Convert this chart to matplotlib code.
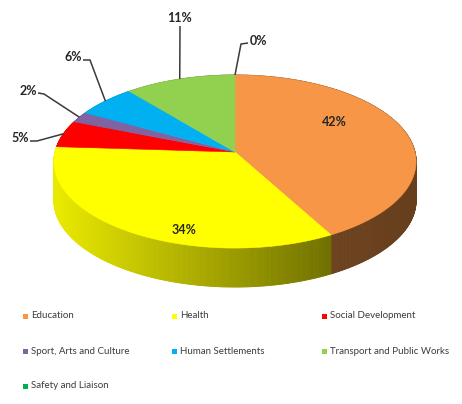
import numpy as np
import matplotlib
matplotlib.use("Agg")
import matplotlib.pyplot as plt
from matplotlib.collections import PolyCollection
from matplotlib.patches import Polygon, Rectangle
from matplotlib.colors import to_rgb

# budget share per department (percent), drawn clockwise from 12 o'clock
departments = ["Education", "Health", "Social Development", "Sport, Arts and Culture",
               "Human Settlements", "Transport and Public Works", "Safety and Liaison"]
shares = [42, 34, 5, 2, 6, 11, 0]
colors = ["#F79646", "#FFFF00", "#FF0000", "#8064A2", "#00B0F0", "#92D050", "#00B050"]

# pie geometry in pixel space
CX, CY = 235, 152
RX, RY = 180, 85.5
PERSP = 0.11
DEPTH = 39

# label placement: (text x, text y, ha, leader elbow) ; None elbow -> label on the top face
label_pos = [
    (334, 122, "center", None),
    (184, 230, "center", None),
    (29, 138, "right", [(30, 141), (37, 141)]),
    (37, 91, "right", [(38, 93), (44, 94)]),
    (82, 57, "right", [(83, 60), (90, 60)]),
    (180, 18, "center", [(180, 26)]),
    (250, 41, "left", [(248, 43), (241, 44)]),
]

legend_cols = [23, 172, 322]
legend_rows = [316, 351, 386]


def project(theta, r=1.0):
    t = np.radians(theta)
    u = r * np.sin(t)
    v = -r * np.cos(t)
    w = 1.0 / (1.0 - PERSP * v)
    return CX + RX * u * w, CY + RY * v * w


def side_shade(x):
    return np.interp(x, [55, 330, 415], [0.92, 0.44, 0.42])


fig = plt.figure(figsize=(4.62, 4.04), dpi=100)
ax = fig.add_axes([0, 0, 1, 1])
ax.set_xlim(0, 462)
ax.set_ylim(404, 0)
ax.axis("off")

bounds = np.concatenate([[0], np.cumsum(shares)]) / np.sum(shares) * 360.0

# rim walls, back to front
quads, qcolors, depth_key = [], [], []
for i, (a0, a1) in enumerate(zip(bounds[:-1], bounds[1:])):
    if a1 - a0 <= 0:
        continue
    n = max(2, int((a1 - a0) / 0.5) + 1)
    th = np.linspace(a0, a1, n)
    xs, ys = project(th)
    base = np.array(to_rgb(colors[i]))
    for k in range(n - 1):
        q = [(xs[k], ys[k]), (xs[k + 1], ys[k + 1]),
             (xs[k + 1], ys[k + 1] + DEPTH), (xs[k], ys[k] + DEPTH)]
        quads.append(q)
        qcolors.append(base * side_shade(0.5 * (xs[k] + xs[k + 1])))
        depth_key.append(-np.cos(np.radians(0.5 * (th[k] + th[k + 1]))))
order = np.argsort(depth_key)
ax.add_collection(PolyCollection([quads[j] for j in order],
                                 facecolors=[qcolors[j] for j in order],
                                 edgecolors=[qcolors[j] for j in order],
                                 linewidths=0.6))

# top face
for i, (a0, a1) in enumerate(zip(bounds[:-1], bounds[1:])):
    if a1 - a0 <= 0:
        continue
    th = np.linspace(a0, a1, max(2, int(a1 - a0) * 2 + 1))
    xs, ys = project(th)
    pts = [(CX, CY)] + list(zip(xs, ys))
    ax.add_patch(Polygon(pts, closed=True, facecolor=colors[i],
                         edgecolor=colors[i], linewidth=0.4))

# percentage labels
for i, val in enumerate(shares):
    tx, ty, ha, elbow = label_pos[i]
    ax.text(tx, ty, f"{val}%", ha=ha, va="center", fontsize=9,
            fontweight="bold", family="Lato", color="#262626")
    if elbow is not None:
        mid = 0.5 * (bounds[i] + bounds[i + 1])
        px, py = project(mid)
        pts = elbow + [(px, py)]
        ax.plot([p[0] for p in pts], [p[1] for p in pts], color="#3a3a3a",
                lw=1.1, solid_capstyle="butt")

# legend
for i, name in enumerate(departments):
    lx = legend_cols[i % 3]
    ly = legend_rows[i // 3]
    ax.add_patch(Rectangle((lx, ly - 2.5), 5, 5, facecolor=colors[i], edgecolor="none"))
    ax.text(lx + 8, ly, name, ha="left", va="center", fontsize=7,
            family="Lato", color="#3c3c3c")

fig.savefig("out.png", dpi=100)
